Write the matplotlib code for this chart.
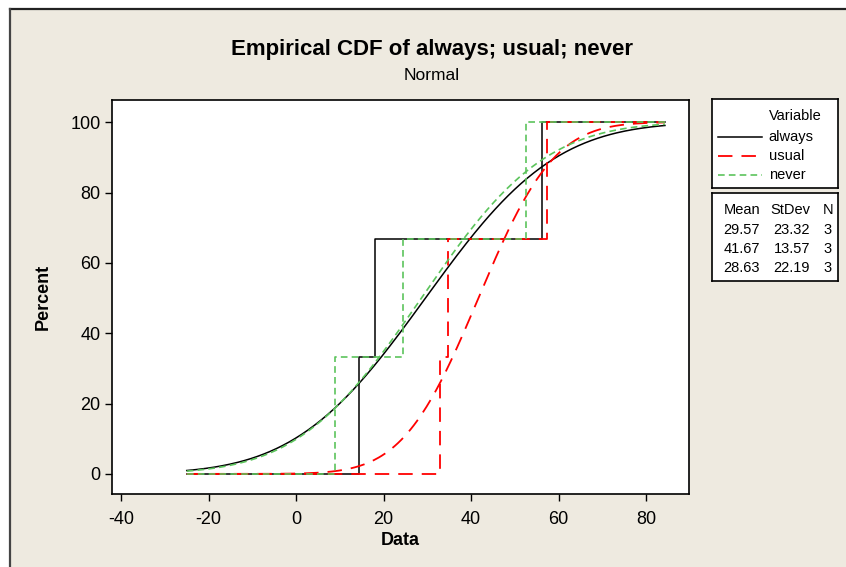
import math
import numpy as np
import matplotlib
matplotlib.use("Agg")
import matplotlib.pyplot as plt
from matplotlib.patches import Rectangle
from matplotlib.lines import Line2D

plt.rcParams['font.family'] = ['Liberation Sans', 'DejaVu Sans']
plt.rcParams['axes.unicode_minus'] = False

names = ["always", "usual", "never"]
always = [14.3, 18.1, 56.3]
usual = [32.8, 34.8, 57.4]
never = [8.9, 24.4, 52.6]
means = [29.57, 41.67, 28.63]
stdevs = [23.32, 13.57, 22.19]
counts = [3, 3, 3]
x_lo, x_hi = -25, 84.3

colors = ["black", "#ff0000", "#5cc45c"]
dashes = [None, (8, 5), (4, 2.5)]
widths = [1.1, 1.3, 1.2]

W, H = 846, 567
fig = plt.figure(figsize=(W / 100, H / 100), dpi=100, facecolor="white")

# beige panel with dark border on top / left
bg = "#eeeae0"
fig.patches.append(Rectangle((10 / W, 0), 1, 1 - 9 / H, transform=fig.transFigure,
                             facecolor=bg, edgecolor="none", zorder=-5))
fig.lines.append(Line2D([10 / W, 1], [1 - 9 / H, 1 - 9 / H], transform=fig.transFigure,
                        color="#222222", lw=1.6, zorder=-4))
fig.lines.append(Line2D([10 / W, 10 / W], [0, 1 - 9 / H], transform=fig.transFigure,
                        color="#444444", lw=1.6, zorder=-4))


def px(x0, y0, x1, y1):
    return [x0 / W, 1 - y1 / H, (x1 - x0) / W, (y1 - y0) / H]


ax = fig.add_axes(px(111.5, 100, 689, 494.3))
ax.set_facecolor("white")

for data, mu, sd, c, d, lw in zip([always, usual, never], means, stdevs, colors, dashes, widths):
    xs = [x_lo] + list(data) + [x_hi]
    ys = [0] + [100 * (i + 1) / len(data) for i in range(len(data))] + [100]
    ln, = ax.step(xs, ys, where="post", color=c, lw=lw)
    xx = np.linspace(x_lo, x_hi, 300)
    yy = [50 * (1 + math.erf((v - mu) / (sd * math.sqrt(2)))) for v in xx]
    ln2, = ax.plot(xx, yy, color=c, lw=lw)
    if d is not None:
        ln.set_dashes(d)
        ln2.set_dashes(d)

ax.set_xlim(-42.2, 89.8)
ax.set_ylim(-5.8, 106.3)
ax.set_xticks([-40, -20, 0, 20, 40, 60, 80])
ax.set_yticks([0, 20, 40, 60, 80, 100])
ax.tick_params(direction="out", length=5, width=1, labelsize=13, pad=3)
ax.tick_params(axis="x", pad=7)
for s in ax.spines.values():
    s.set_linewidth(1.2)
ax.set_xlabel("Data", fontsize=13, fontweight="bold", labelpad=3)
ax.set_ylabel("Percent", fontsize=13, fontweight="bold", labelpad=13)

fig.text(432 / W, 1 - 49 / H, "Empirical CDF of always; usual; never", ha="center", va="center",
         fontsize=16, fontweight="bold")
fig.text(432 / W, 1 - 76 / H, "Normal", ha="center", va="center", fontsize=12.5)

# legend box
fs = 10.5
lg = fig.add_axes(px(711.7, 99, 838, 187.7))
lg.set_xlim(0, 126.3)
lg.set_ylim(88.7, 0)
lg.set_xticks([])
lg.set_yticks([])
lg.set_facecolor("white")
for s in lg.spines.values():
    s.set_linewidth(1.2)
lg.text(57, 16.7, "Variable", fontsize=fs, va="center")
for i, (n, c, d, lw) in enumerate(zip(names, colors, dashes, widths)):
    y = 37.7 + i * 19.2
    ln, = lg.plot([6.3, 50], [y, y], color=c, lw=lw)
    if d is not None:
        ln.set_dashes(d)
    lg.text(57, y, n, fontsize=fs, va="center")

# statistics box
st = fig.add_axes(px(711.7, 193.3, 838, 281))
st.set_xlim(0, 126.3)
st.set_ylim(87.7, 0)
st.set_xticks([])
st.set_yticks([])
st.set_facecolor("white")
for s in st.spines.values():
    s.set_linewidth(1.2)
st.text(48.3, 16.7, "Mean", fontsize=fs, va="center", ha="right")
st.text(98.3, 16.7, "StDev", fontsize=fs, va="center", ha="right")
st.text(116.3, 16.7, "N", fontsize=fs, va="center", ha="center")
for i in range(3):
    y = 36.7 + i * 19.2
    st.text(48.3, y, f"{means[i]:.2f}", fontsize=fs, va="center", ha="right")
    st.text(98.3, y, f"{stdevs[i]:.2f}", fontsize=fs, va="center", ha="right")
    st.text(116.3, y, str(counts[i]), fontsize=fs, va="center", ha="center")

fig.savefig("out.png", dpi=100, facecolor=fig.get_facecolor())
